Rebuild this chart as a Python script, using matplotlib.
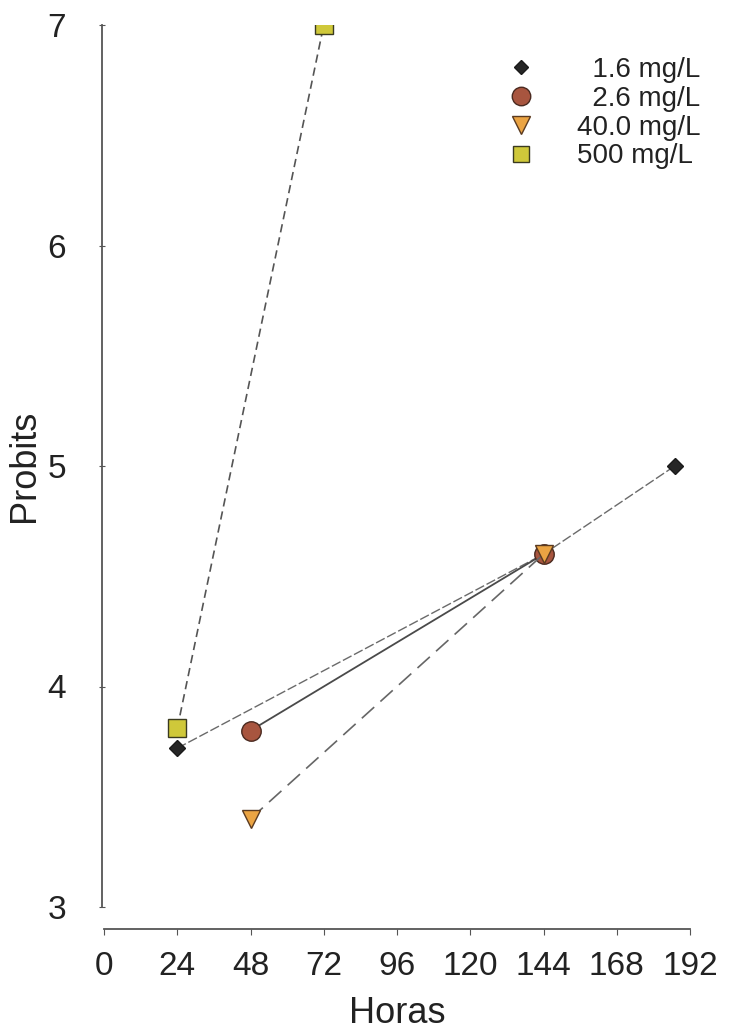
import matplotlib
matplotlib.use("Agg")
import matplotlib.pyplot as plt

plt.rcParams['font.family'] = ['Liberation Sans', 'DejaVu Sans']

# Probit values vs. exposure time for each concentration
hours_16 = [24, 144, 187]
probit_16 = [3.72, 4.60, 5.00]

hours_26 = [48, 144]
probit_26 = [3.80, 4.60]

hours_40 = [48, 144]
probit_40 = [3.40, 4.60]

hours_500 = [24, 72]
probit_500 = [3.81, 7.00]

labels = ["\u20071.6 mg/L", "\u20072.6 mg/L", "40.0 mg/L", "500 mg/L"]
x_ticks = [0, 24, 48, 72, 96, 120, 144, 168, 192]
y_ticks = [3, 4, 5, 6, 7]

fig = plt.figure(figsize=(7.30, 10.32), dpi=100)
ax = fig.add_axes([104 / 730, 1 - 907 / 1032, 586 / 730, 882 / 1032])

ax.plot(hours_500, probit_500, color='#555555', lw=1.2, ls=(0, (5, 3)),
        marker='s', ms=12.5, mfc='#cfc83a', mec='#3a3a20', mew=1.0,
        label=labels[3], zorder=3)
ax.plot(hours_16, probit_16, color='#6a6a6a', lw=1.0, ls=(0, (7, 2)),
        marker='D', ms=8, mfc='#262626', mec='#1a1a1a', mew=1.0,
        label=labels[0], zorder=3)
ax.plot(hours_26, probit_26, color='#4a4a4a', lw=1.3, ls='-',
        marker='o', ms=14, mfc='#a8553f', mec='#4a2a20', mew=1.0,
        label=labels[1], zorder=3)
ax.plot(hours_40, probit_40, color='#666666', lw=1.2, ls=(0, (10, 5)),
        marker='v', ms=13, mfc='#eba443', mec='#5a3a20', mew=1.0,
        label=labels[2], zorder=4)

ax.set_xlim(0, 192)
ax.set_ylim(3, 7)
ax.set_xticks(x_ticks)
ax.set_yticks(y_ticks)

for s in ['top', 'right']:
    ax.spines[s].set_visible(False)
ax.spines['bottom'].set_position(('outward', 16))
ax.spines['left'].set_position(('outward', 1.5))
for s in ['left', 'bottom']:
    ax.spines[s].set_color('#555555')
    ax.spines[s].set_linewidth(1.3)

ax.tick_params(axis='both', labelsize=24, colors='#555555', labelcolor='#222222')
ax.tick_params(axis='y', direction='inout', length=5, pad=30)
ax.tick_params(axis='x', direction='out', length=4, pad=12)
for lbl in ax.get_yticklabels():
    lbl.set_horizontalalignment('center')

ax.set_xlabel('Horas', fontsize=26, color='#222222', labelpad=10)
ax.set_ylabel('Probits', fontsize=26, color='#222222', labelpad=4)

handles, lbls = ax.get_legend_handles_labels()
order = [1, 2, 3, 0]
leg = ax.legend([handles[i] for i in order], [lbls[i] for i in order],
                loc='upper right', bbox_to_anchor=(1.06, 0.992), frameon=False,
                fontsize=20, handlelength=0.6, handletextpad=1.7,
                labelspacing=0.1, markerscale=0.95)
for line in leg.get_lines():
    line.set_linestyle('none')
for t in leg.get_texts():
    t.set_color('#222222')

fig.savefig('out.png', dpi=100)
